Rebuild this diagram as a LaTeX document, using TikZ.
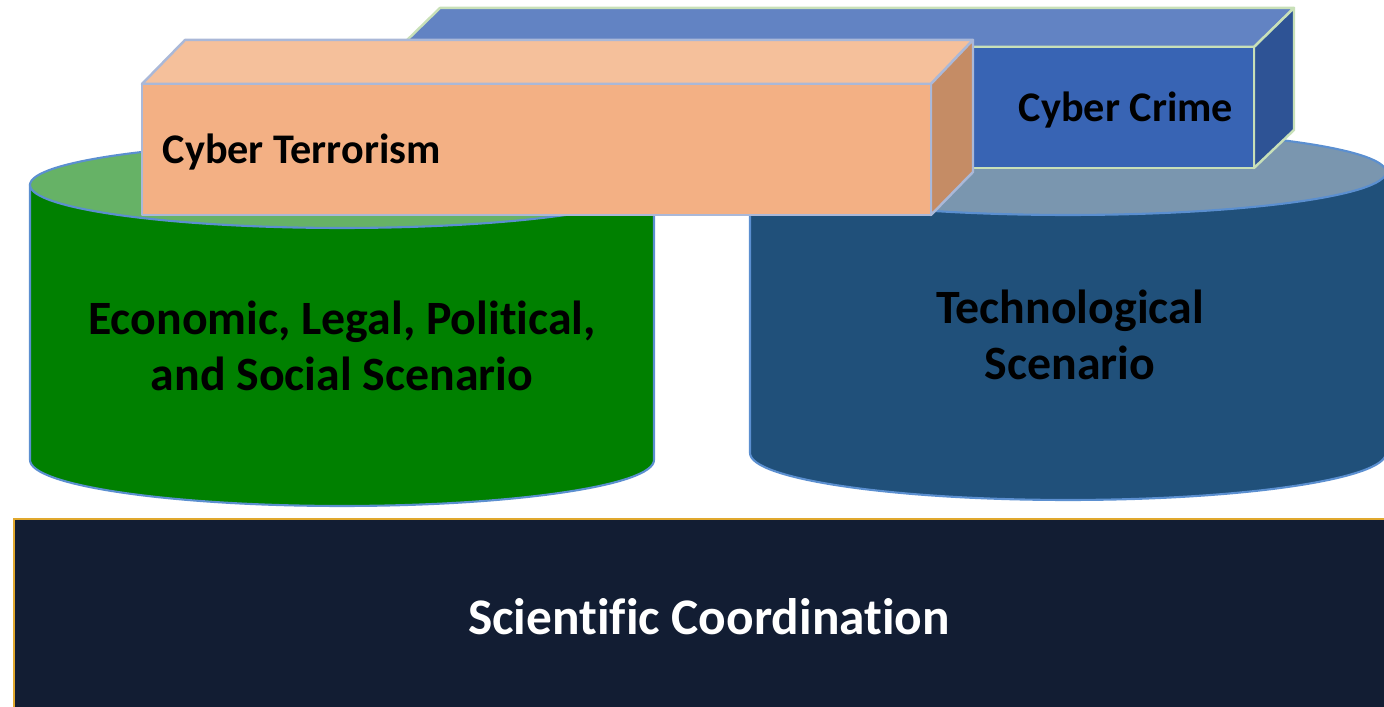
\documentclass[tikz,border=0pt]{standalone}
\usepackage{fontspec}
\setmainfont[Ligatures=NoCommon]{Carlito}
\definecolor{navy}{HTML}{121D33}
\definecolor{gold}{HTML}{E0A82E}
\definecolor{grside}{HTML}{008000}
\definecolor{grtop}{HTML}{66B266}
\definecolor{blside}{HTML}{20507A}
\definecolor{bltop}{HTML}{7A96AF}
\definecolor{rim}{HTML}{5B8FD0}
\definecolor{crfront}{HTML}{3864B4}
\definecolor{crtop}{HTML}{6283C3}
\definecolor{crside}{HTML}{2E5395}
\definecolor{crline}{HTML}{C8E0B8}
\definecolor{tefront}{HTML}{F3B084}
\definecolor{tetop}{HTML}{F5C09B}
\definecolor{teside}{HTML}{C58C65}
\definecolor{teline}{HTML}{AAB8D8}
\begin{document}
\begin{tikzpicture}
	[x=0.01cm, y=0.01cm,
	cyl/.style={draw=rim, line width=0.6pt},
	face/.style={line width=0.7pt, line join=round},
	label/.style={font=\bfseries\fontsize{12}{14}\selectfont, text=black, inner sep=0pt},
	bigtext/.style={font=\bfseries\fontsize{13.6}{16}\selectfont, text=black, align=center, inner sep=0pt}]
	\useasboundingbox (0,0) rectangle (1384,707);
	% base
	\fill[navy] (14,-10) rectangle (1400,188);
	\draw[gold, line width=0.8pt] (14,-10) -- (14,188) -- (1400,188);
	\node[font=\bfseries\fontsize{14.6}{18}\selectfont, text=white] (coord) at (709,90) {Scientific Coordination};
	% left cylinder
	\fill[grside, cyl] (30,522) -- (30,247) arc[start angle=180, end angle=360, x radius=312, y radius=46] -- (654,522) -- cycle;
	\fill[grtop, cyl] (342,522) ellipse[x radius=312, y radius=43];
	% right cylinder
	\fill[blside, cyl] (750,535) -- (750,254) arc[start angle=180, end angle=360, x radius=318, y radius=47] -- (1386,535) -- cycle;
	\fill[bltop, cyl] (1068,535) ellipse[x radius=318, y radius=43];
	% cyber crime box
	\filldraw[face, fill=crtop, draw=crline] (400,660) -- (440,699) -- (1294,699) -- (1254,660) -- cycle;
	\filldraw[face, fill=crside, draw=crline] (1254,660) -- (1294,699) -- (1294,577) -- (1254,539) -- cycle;
	\filldraw[face, fill=crfront, draw=crline] (400,539) rectangle (1254,660);
	% cyber terrorism box
	\filldraw[face, fill=tetop, draw=teline] (142,623) -- (185,667) -- (973,667) -- (931,623) -- cycle;
	\filldraw[face, fill=teside, draw=teline] (931,623) -- (973,667) -- (973,535) -- (931,492) -- cycle;
	\filldraw[face, fill=tefront, draw=teline] (142,492) rectangle (931,623);
	% texts
	\node[label, anchor=west] (terror) at (162,555) {Cyber Terrorism};
	\node[label] (crime) at (1126,597) {Cyber Crime};
	\node[bigtext] (social) at (342,361) {Economic, Legal, Political,\\and Social Scenario};
	\node[bigtext] (techno) at (1070,372) {Technological\\Scenario};
\end{tikzpicture}
\end{document}
